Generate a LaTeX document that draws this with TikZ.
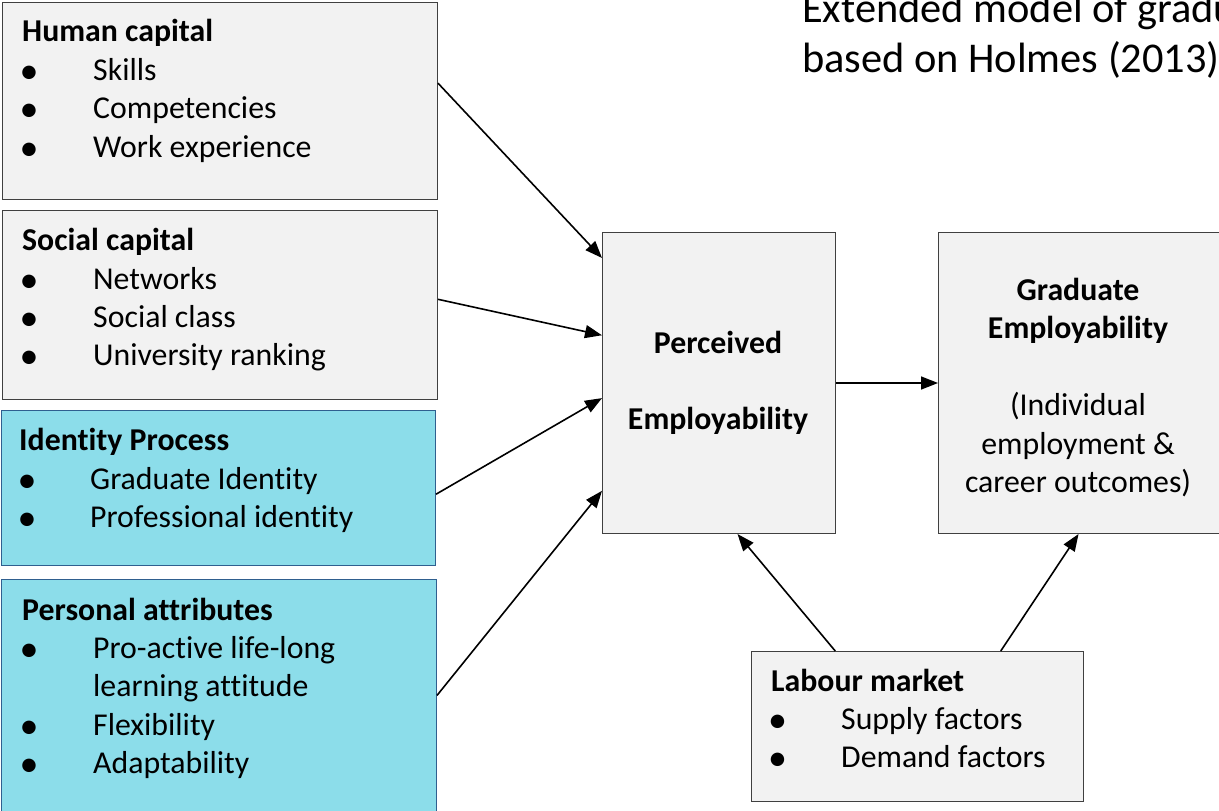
\documentclass[tikz,border=0pt]{standalone}
\usepackage{fontspec}
\setmainfont{Carlito}[Ligatures={NoCommon}]
\usetikzlibrary{arrows.meta,calc}
\definecolor{boxgray}{HTML}{F2F2F2}
\definecolor{boxline}{HTML}{404040}
\definecolor{cyanfill}{HTML}{8CDDEA}
\definecolor{cyanline}{HTML}{2F5F8F}
\newcommand{\mainfs}{\fontsize{31.8}{38.5}\selectfont}
\newcommand{\bulfs}{\fontsize{38}{38}\selectfont}
\newcommand{\titlefs}{\fontsize{42.4}{50}\selectfont}
\begin{document}
\begin{tikzpicture}[x=1pt,y=-1pt,
  graybox/.style={draw=boxline, fill=boxgray, line width=1pt, inner sep=0pt, anchor=north west},
  cyanbox/.style={draw=cyanline, fill=cyanfill, line width=1pt, inner sep=0pt, anchor=north west},
  txt/.style={anchor=base west, inner sep=0pt, font=\mainfs},
  ttl/.style={anchor=base west, inner sep=0pt, font=\mainfs\bfseries},
  ctxt/.style={anchor=base, inner sep=0pt, font=\mainfs},
  cttl/.style={anchor=base, inner sep=0pt, font=\mainfs\bfseries},
  bul/.style={anchor=base, inner sep=0pt, font=\bulfs, yshift=-3pt},
  arr/.style={line width=1.6pt, -{Triangle[length=17pt,width=13pt]}}]
\useasboundingbox (0,0) rectangle (1219,811);
\fill[white] (0,0) rectangle (1219,811);

% boxes
\node[graybox, minimum width=435pt, minimum height=197pt] (hc) at (2,2) {};
\node[graybox, minimum width=435pt, minimum height=189pt] (sc) at (2,210) {};
\node[cyanbox, minimum width=434pt, minimum height=155pt] (ip) at (1,410) {};
\node[cyanbox, minimum width=435pt, minimum height=240pt] (pa) at (1,579) {};
\node[graybox, minimum width=233pt, minimum height=301pt] (pe) at (602,232) {};
\node[graybox, minimum width=290pt, minimum height=301pt] (ge) at (938,232) {};
\node[graybox, minimum width=332pt, minimum height=150pt] (lm) at (751,651) {};

% title
\node[anchor=base west, inner sep=0pt, font=\titlefs] (t1) at (802,22) {Extended model of gradu};
\node[anchor=base west, inner sep=0pt, font=\titlefs] (t2) at (802,72) {based on Holmes (2013)};

% Human capital
\node[ttl] (hct) at (22,41) {Human capital};
\node[bul] (hb1) at (29,80) {•}; \node[txt] (h1) at (93,80) {Skills};
\node[bul] (hb2) at (29,118.5) {•}; \node[txt] (h2) at (93,118.5) {Competencies};
\node[bul] (hb3) at (29,157) {•}; \node[txt] (h3) at (93,157) {Work experience};

% Social capital
\node[ttl] (sct) at (22,250) {Social capital};
\node[bul] (sb1) at (29,289) {•}; \node[txt] (s1) at (93,289) {Networks};
\node[bul] (sb2) at (29,327) {•}; \node[txt] (s2) at (93,327) {Social class};
\node[bul] (sb3) at (29,365.5) {•}; \node[txt] (s3) at (93,365.5) {University ranking};

% Identity Process
\node[ttl] (ipt) at (19,450) {Identity Process};
\node[bul] (ib1) at (27,489) {•}; \node[txt] (i1) at (90,489) {Graduate Identity};
\node[bul] (ib2) at (27,527) {•}; \node[txt] (i2) at (90,527) {Professional identity};

% Personal attributes
\node[ttl] (pat) at (22,620) {Personal attributes};
\node[bul] (pb1) at (29,658) {•}; \node[txt] (p1) at (93,658) {Pro-active life-long};
\node[txt] (p1b) at (93,696.5) {learning attitude};
\node[bul] (pb2) at (29,735) {•}; \node[txt] (p2) at (93,735) {Flexibility};
\node[bul] (pb3) at (29,773) {•}; \node[txt] (p3) at (93,773) {Adaptability};

% Perceived
\node[cttl] (pe1) at (718,353) {Perceived};
\node[cttl] (pe2) at (718,429) {Employability};

% Graduate
\node[cttl] (g1) at (1078,300) {Graduate};
\node[cttl] (g2) at (1078,338.5) {Employability};
\node[ctxt] (g3) at (1078,415.5) {(Individual};
\node[ctxt] (g4) at (1078,454) {employment \&};
\node[ctxt] (g5) at (1078,492.5) {career outcomes)};

% Labour market
\node[ttl] (lmt) at (771,691) {Labour market};
\node[bul] (lb1) at (777.5,729) {•}; \node[txt] (l1) at (841,729) {Supply factors};
\node[bul] (lb2) at (777.5,767.5) {•}; \node[txt] (l2) at (841,767.5) {Demand factors};

% arrows
\draw[arr] ($(hc.north east)!0.41!(hc.south east)$) -- ($(pe.north west)!0.086!(pe.south west)$);
\draw[arr] ($(sc.north east)!0.47!(sc.south east)$) -- ($(pe.north west)!0.342!(pe.south west)$);
\draw[arr] ($(ip.north east)!0.54!(ip.south east)$) -- ($(pe.north west)!0.55!(pe.south west)$);
\draw[arr] ($(pa.north east)!0.483!(pa.south east)$) -- ($(pe.north west)!0.857!(pe.south west)$);
\draw[arr] (pe.east) -- (ge.west);
\draw[arr] ($(lm.north west)!0.253!(lm.north east)$) -- ($(pe.south west)!0.579!(pe.south east)$);
\draw[arr] ($(lm.north west)!0.75!(lm.north east)$) -- ($(ge.south west)!0.483!(ge.south east)$);
\end{tikzpicture}
\end{document}
